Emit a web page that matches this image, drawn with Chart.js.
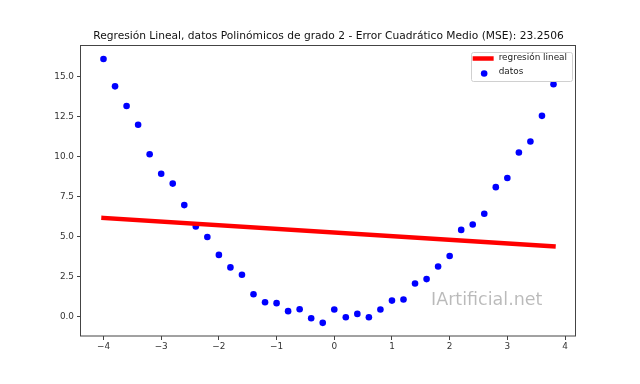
<!DOCTYPE html>
<html>
<head>
<meta charset="utf-8">
<script src="https://cdn.jsdelivr.net/npm/chart.js@4"></script>
<style>
  html, body { margin: 0; padding: 0; background: #fff; }
  #wrap { width: 640px; height: 384px; }
</style>
</head>
<body>
<div id="wrap"><canvas id="regChart" width="640" height="384"></canvas></div>
<script>
// datos
const xValues = [-4.0, -3.8, -3.6, -3.4, -3.2, -3.0, -2.8, -2.6, -2.4, -2.2,
                 -2.0, -1.8, -1.6, -1.4, -1.2, -1.0, -0.8, -0.6, -0.4, -0.2,
                  0.0,  0.2,  0.4,  0.6,  0.8,  1.0,  1.2,  1.4,  1.6,  1.8,
                  2.0,  2.2,  2.4,  2.6,  2.8,  3.0,  3.2,  3.4,  3.6,  3.8];
const yValues = [16.08, 14.37, 13.14, 11.97, 10.13, 8.92, 8.30, 6.96, 5.62, 4.97,
                  3.85,  3.07,  2.61,  1.40,  0.90, 0.84, 0.34, 0.46, -0.10, -0.39,
                  0.44, -0.04,  0.17, -0.04,  0.44, 1.00, 1.07, 2.07, 2.34, 3.13,
                  3.78,  5.41,  5.75,  6.42,  8.08, 8.65, 10.24, 10.93, 12.53, 14.50];
const fitX = [-4.0, 3.8];
const fitY = [6.16, 4.39];
const xTicks = [-4, -3, -2, -1, 0, 1, 2, 3, 4];
const yTicks = [0, 2.5, 5, 7.5, 10, 12.5, 15];
const chartTitle = 'Regresión Lineal, datos Polinómicos de grado 2 - Error Cuadrático Medio (MSE): 23.2506';
const watermark = 'IArtificial.net';

const FONT = 'DejaVu Sans';
const minus = (s) => String(s).replace('-', '\u2212');

// marco de los ejes (4 lados)
const framePlugin = {
  id: 'frame',
  afterDatasetsDraw(chart) {
    const a = chart.chartArea;
    const ctx = chart.ctx;
    ctx.save();
    ctx.strokeStyle = '#444';
    ctx.lineWidth = 1;
    ctx.strokeRect(Math.round(a.left) - 0.5, Math.round(a.top) + 0.5,
                   Math.round(a.right - a.left), Math.round(a.bottom - a.top) - 0.5);
    ctx.restore();
  }
};

// marca de agua
const watermarkPlugin = {
  id: 'watermark',
  afterDatasetsDraw(chart) {
    const ctx = chart.ctx;
    ctx.save();
    ctx.font = '17.5px "' + FONT + '"';
    ctx.fillStyle = 'rgba(0,0,0,0.27)';
    ctx.textAlign = 'left';
    ctx.textBaseline = 'alphabetic';
    ctx.fillText(watermark, 431, 304.5);
    ctx.restore();
  }
};

// leyenda dentro del area (arriba a la derecha)
const legendPlugin = {
  id: 'innerLegend',
  afterDraw(chart) {
    const a = chart.chartArea;
    const ctx = chart.ctx;
    const sets = chart.data.datasets;
    ctx.save();
    ctx.font = '8.9px "' + FONT + '"';
    let maxW = 0;
    sets.forEach(d => { maxW = Math.max(maxW, ctx.measureText(d.label).width); });
    const handleW = 21, gap = 5, pad = 2, rowH = 14;
    const w = pad + handleW + gap + maxW + 5;
    const h = rowH * sets.length + 1;
    const x0 = a.right - 4 - w;
    const y0 = a.top + 6.5;
    ctx.fillStyle = 'rgba(255,255,255,0.8)';
    ctx.strokeStyle = '#d0d0d0';
    ctx.lineWidth = 1;
    ctx.beginPath();
    ctx.roundRect(Math.round(x0) + 0.5, Math.round(y0) + 0.5, Math.round(w), Math.round(h), 2);
    ctx.fill();
    ctx.stroke();
    sets.forEach((d, i) => {
      const cy = y0 + 7 + i * rowH;
      const hx = x0 + pad;
      if (d.showLine) {
        ctx.strokeStyle = d.borderColor;
        ctx.lineWidth = d.borderWidth;
        ctx.beginPath();
        ctx.moveTo(hx, cy);
        ctx.lineTo(hx + handleW, cy);
        ctx.stroke();
      } else {
        ctx.fillStyle = d.backgroundColor;
        ctx.beginPath();
        ctx.arc(hx + handleW / 2 + 1, cy + 1, d.pointRadius, 0, Math.PI * 2);
        ctx.fill();
      }
      ctx.fillStyle = '#222';
      ctx.textAlign = 'left';
      ctx.textBaseline = 'middle';
      ctx.fillText(d.label, hx + handleW + gap, cy - 1);
    });
    ctx.restore();
  }
};

const ctx = document.getElementById('regChart').getContext('2d');
const regChart = new Chart(ctx, {
  type: 'scatter',
  data: {
    datasets: [
      {
        label: 'regresión lineal',
        data: fitX.map((x, i) => ({ x: x, y: fitY[i] })),
        showLine: true,
        borderColor: '#ff0000',
        backgroundColor: '#ff0000',
        borderWidth: 4.5,
        borderCapStyle: 'square',
        pointRadius: 0
      },
      {
        label: 'datos',
        data: xValues.map((x, i) => ({ x: x, y: yValues[i] })),
        showLine: false,
        backgroundColor: '#0000ff',
        borderColor: '#0000ff',
        borderWidth: 0,
        pointRadius: 3.3
      }
    ]
  },
  options: {
    responsive: false,
    animation: false,
    devicePixelRatio: 1,
    layout: { padding: { left: 0, right: 64, top: 0, bottom: 0 } },
    plugins: {
      legend: { display: false },
      tooltip: { enabled: false },
      title: {
        display: true,
        text: chartTitle,
        fullSize: false,
        color: '#111',
        font: { family: FONT, size: 10.67, weight: 'normal' },
        padding: { top: 30, bottom: 2.2 }
      }
    },
    scales: {
      x: {
        type: 'linear',
        min: -4.39,
        max: 4.19,
        afterBuildTicks: (scale) => { scale.ticks = xTicks.map(v => ({ value: v })); },
        afterFit: (scale) => { scale.height = 48; },
        border: { display: false },
        grid: { display: true, drawOnChartArea: false, drawTicks: true, tickLength: 4, color: '#444' },
        ticks: {
          autoSkip: false,
          maxRotation: 0,
          padding: 1,
          color: '#333',
          font: { family: FONT, size: 8.9 },
          callback: (v) => minus(v)
        }
      },
      y: {
        type: 'linear',
        min: -1.21,
        max: 16.95,
        afterBuildTicks: (scale) => { scale.ticks = yTicks.map(v => ({ value: v })); },
        afterFit: (scale) => { scale.width = 81; },
        border: { display: false },
        grid: { display: true, drawOnChartArea: false, drawTicks: true, tickLength: 4, color: '#444' },
        ticks: {
          autoSkip: false,
          padding: 3,
          color: '#333',
          font: { family: FONT, size: 8.9 },
          callback: (v) => minus(Number(v).toFixed(1))
        }
      }
    }
  },
  plugins: [framePlugin, watermarkPlugin, legendPlugin]
});
</script>
</body>
</html>
